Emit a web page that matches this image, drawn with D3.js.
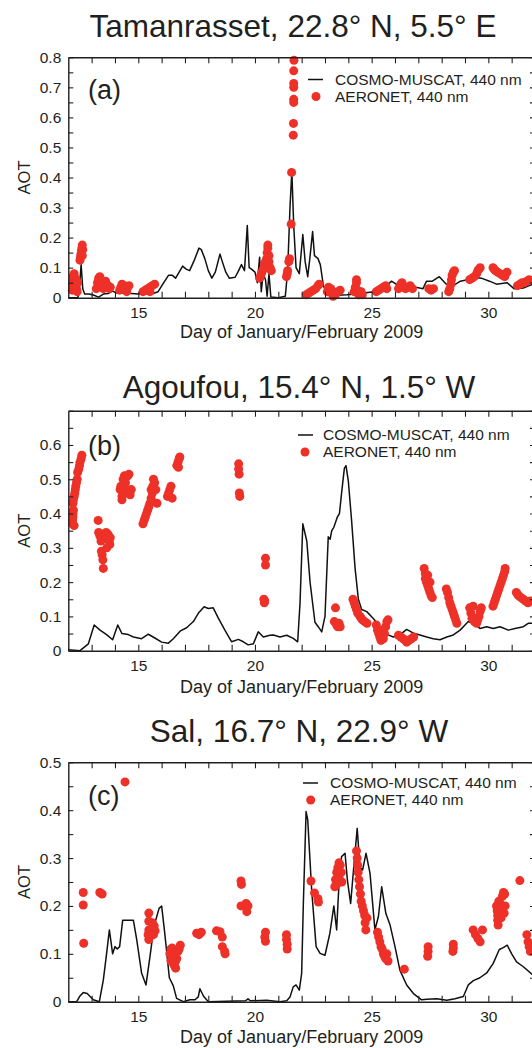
<!DOCTYPE html>
<html>
<head>
<meta charset="utf-8">
<script src="https://cdn.jsdelivr.net/npm/d3@7"></script>
<style>
  body { margin: 0; background: #fff; }
  svg { display: block; font-family: 'Liberation Sans', Arial, Helvetica, sans-serif; }
</style>
</head>
<body>
<script>
// AOT time series, day of Jan/Feb 2009 (32 = Feb 1)
var dayTicks = d3.range(13, 32);
var dayLabels = [15, 20, 25, 30];
var legendNames = ['COSMO-MUSCAT, 440 nm', 'AERONET, 440 nm'];

// (a) Tamanrasset
var tamModel = [[12,0],[12.4,0],[12.45,0.01],[12.55,0.11],[12.62,0.03],[12.7,0.012],[12.9,0.012],[13.1,0.008],[13.3,0.002],
  [13.5,0.012],[13.7,0.014],[13.9,0.022],[14.1,0.015],[14.4,0.016],[14.7,0.014],[15.0,0.012],[15.3,0.012],[15.6,0.013],
  [15.85,0.02],[16.05,0.045],[16.3,0.075],[16.45,0.075],[16.6,0.065],[16.75,0.085],[16.9,0.105],[17.05,0.095],[17.2,0.09],
  [17.4,0.125],[17.6,0.165],[17.7,0.16],[17.85,0.13],[18.0,0.09],[18.15,0.065],[18.3,0.085],[18.5,0.145],[18.6,0.12],
  [18.75,0.085],[18.9,0.065],[19.15,0.068],[19.3,0.09],[19.42,0.11],[19.55,0.09],[19.67,0.24],[19.75,0.1],[19.85,0.095],
  [20.0,0.085],[20.1,0.05],[20.2,0.135],[20.27,0.02],[20.35,0.08],[20.45,0.06],[20.52,0.005],[20.6,0.08],[20.68,0.002],
  [21.0,0],[21.3,0.005],[21.4,0.09],[21.5,0.3],[21.58,0.42],[21.66,0.24],[21.76,0.1],[21.9,0.08],[22.05,0.21],[22.15,0.12],
  [22.26,0.07],[22.35,0.13],[22.47,0.22],[22.55,0.14],[22.7,0.13],[22.8,0.11],[22.93,0.04],[23.1,0.01],[23.5,0.008],
  [23.95,0.01],[24.5,0.014],[25.1,0.02],[25.5,0.03],[25.85,0.055],[26.05,0.045],[26.5,0.045],[26.9,0.035],[27.2,0.03],
  [27.35,0.055],[27.6,0.055],[27.9,0.07],[28.2,0.045],[28.5,0.04],[28.8,0.055],[29.1,0.06],[29.4,0.067],[29.7,0.065],
  [30.05,0.055],[30.35,0.045],[30.8,0.05],[31.1,0.03],[31.5,0.032],[31.9,0.045],[32,0.048]];
var tamObs = [[12.17,0.025],[12.18,0.04],[12.2,0.055],[12.2,0.07],[12.25,0.08],[12.3,0.065],[12.32,0.045],[12.35,0.03],
  [12.38,0.02],[12.4,0.05],[12.5,0.125],[12.52,0.135],[12.54,0.145],[12.56,0.155],[12.58,0.165],[12.6,0.175],[12.62,0.16],
  [12.6,0.14],[13.2,0.03],[13.25,0.05],[13.3,0.065],[13.35,0.07],[13.4,0.05],[13.45,0.035],[13.5,0.03],[13.55,0.045],
  [13.6,0.055],[13.7,0.04],[13.75,0.03],[13.8,0.035],[14.2,0.025],[14.25,0.035],[14.3,0.045],[14.4,0.04],[14.45,0.03],
  [14.5,0.02],[14.55,0.035],[14.6,0.04],[15.2,0.02],[15.3,0.025],[15.4,0.03],[15.5,0.035],[15.6,0.04],[15.7,0.045],
  [15.5,0.02],[20.2,0.065],[20.25,0.075],[20.3,0.085],[20.35,0.095],[20.4,0.11],[20.45,0.12],[20.5,0.13],[20.52,0.15],
  [20.55,0.165],[20.55,0.175],[20.6,0.14],[20.65,0.1],[20.7,0.09],[20.6,0.12],[21.35,0.07],[21.38,0.08],[21.4,0.09],
  [21.45,0.12],[21.48,0.13],[21.55,0.245],[21.57,0.417],[21.64,0.541],[21.65,0.58],[21.66,0.65],[21.66,0.66],[21.66,0.7],
  [21.66,0.713],[21.66,0.755],[21.67,0.79],[22.2,0.01],[22.3,0.015],[22.4,0.02],[22.5,0.025],[22.6,0.03],[22.7,0.04],
  [22.75,0.045],[23.1,0.02],[23.15,0.035],[23.25,0.03],[23.3,0.015],[23.35,0.005],[23.45,0.01],[23.55,0.02],[23.65,0.025],
  [24.25,0.02],[24.3,0.035],[24.35,0.05],[24.35,0.06],[24.4,0.025],[24.45,0.01],[24.55,0.02],[24.6,0.01],[25.2,0.02],
  [25.3,0.025],[25.4,0.03],[25.5,0.035],[25.6,0.04],[25.65,0.03],[26.15,0.03],[26.25,0.045],[26.3,0.05],[26.35,0.035],
  [26.45,0.03],[26.55,0.035],[26.65,0.04],[26.75,0.03],[27.45,0.03],[27.55,0.025],[27.65,0.03],[28.3,0.02],[28.35,0.03],
  [28.4,0.045],[28.42,0.06],[28.45,0.075],[28.5,0.085],[28.55,0.09],[29.2,0.06],[29.3,0.065],[29.4,0.07],[29.5,0.08],
  [29.55,0.09],[29.6,0.095],[29.65,0.1],[30.2,0.1],[30.25,0.095],[30.3,0.09],[30.4,0.085],[30.5,0.08],[30.6,0.075],
  [30.7,0.07],[30.75,0.08],[30.8,0.085],[31.25,0.04],[31.35,0.045],[31.45,0.05],[31.55,0.05],[31.65,0.055],[31.75,0.06]];

// (b) Agoufou
var agoModel = [[12,0.003],[12.5,0],[12.86,0.02],[13.11,0.075],[13.36,0.06],[13.64,0.047],[13.9,0.032],[14.12,0.075],
  [14.3,0.05],[14.57,0.047],[14.79,0.04],[15.14,0.035],[15.43,0.048],[15.71,0.037],[16.0,0.025],[16.29,0.022],[16.5,0.035],
  [16.79,0.057],[17.07,0.067],[17.36,0.085],[17.57,0.109],[17.82,0.128],[18.0,0.123],[18.21,0.125],[18.43,0.095],
  [18.71,0.06],[19.0,0.026],[19.29,0.033],[19.5,0.026],[19.71,0.017],[19.93,0.02],[20.14,0.055],[20.36,0.04],[20.64,0.045],
  [20.79,0.046],[21.07,0.04],[21.36,0.045],[21.64,0.036],[21.83,0.026],[21.93,0.138],[22.05,0.37],[22.22,0.32],[22.36,0.2],
  [22.57,0.083],[22.71,0.07],[22.86,0.055],[23.0,0.1],[23.14,0.332],[23.22,0.325],[23.29,0.35],[23.38,0.36],[23.53,0.39],
  [23.62,0.4],[23.71,0.459],[23.83,0.532],[23.9,0.54],[24.0,0.495],[24.14,0.38],[24.29,0.24],[24.43,0.15],[24.57,0.12],
  [24.79,0.114],[25.07,0.094],[25.36,0.07],[25.53,0.051],[25.71,0.046],[25.93,0.04],[26.21,0.046],[26.5,0.062],
  [26.79,0.051],[27.07,0.046],[27.36,0.04],[27.64,0.035],[27.93,0.032],[28.22,0.04],[28.5,0.046],[28.79,0.06],[29.0,0.075],
  [29.14,0.085],[29.36,0.08],[29.64,0.065],[29.93,0.07],[30.21,0.065],[30.5,0.07],[30.86,0.06],[31.14,0.065],[31.5,0.07],
  [31.71,0.08],[32,0.08]];
var agoObs = [[12.18,0.37],[12.18,0.38],[12.2,0.39],[12.2,0.4],[12.22,0.41],[12.2,0.43],[12.25,0.45],[12.28,0.46],[12.3,0.47],
  [12.32,0.48],[12.35,0.49],[12.38,0.5],[12.4,0.52],[12.45,0.53],[12.48,0.54],[12.5,0.55],[12.55,0.56],[12.58,0.57],
  [12.25,0.365],[12.22,0.44],[13.28,0.38],[13.3,0.345],[13.35,0.335],[13.4,0.32],[13.42,0.29],[13.45,0.28],[13.48,0.265],
  [13.5,0.24],[13.55,0.33],[13.62,0.345],[13.7,0.34],[13.75,0.32],[13.78,0.31],[13.8,0.33],[13.65,0.3],[14.22,0.47],
  [14.25,0.48],[14.3,0.45],[14.3,0.44],[14.35,0.5],[14.4,0.51],[14.45,0.46],[14.5,0.47],[14.55,0.51],[14.6,0.515],
  [14.65,0.455],[14.7,0.47],[14.45,0.49],[15.2,0.37],[15.25,0.38],[15.3,0.39],[15.35,0.4],[15.4,0.41],[15.45,0.42],
  [15.5,0.43],[15.55,0.445],[15.6,0.46],[15.62,0.48],[15.65,0.5],[15.7,0.49],[15.75,0.47],[15.8,0.43],[15.55,0.47],
  [16.25,0.45],[16.3,0.46],[16.35,0.47],[16.4,0.48],[16.45,0.445],[16.65,0.54],[16.7,0.55],[16.75,0.56],[16.78,0.565],
  [16.72,0.535],[19.3,0.545],[19.3,0.53],[19.32,0.515],[19.33,0.46],[19.35,0.45],[20.45,0.27],[20.45,0.25],[20.38,0.15],
  [20.4,0.14],[20.42,0.145],[23.45,0.125],[23.4,0.085],[23.5,0.075],[23.55,0.07],[23.6,0.08],[23.65,0.07],[24.2,0.15],
  [24.25,0.14],[24.3,0.13],[24.35,0.12],[24.4,0.11],[24.5,0.1],[24.55,0.095],[24.6,0.09],[24.7,0.085],[24.8,0.08],
  [25.2,0.075],[25.25,0.06],[25.3,0.05],[25.35,0.04],[25.4,0.03],[25.5,0.035],[25.55,0.05],[25.6,0.07],[25.65,0.085],
  [25.7,0.09],[25.45,0.06],[26.15,0.045],[26.25,0.04],[26.35,0.035],[26.45,0.03],[26.5,0.025],[26.6,0.03],[26.7,0.035],
  [26.8,0.04],[27.25,0.24],[27.3,0.225],[27.3,0.21],[27.35,0.2],[27.4,0.19],[27.45,0.18],[27.5,0.17],[27.55,0.16],
  [27.6,0.155],[27.5,0.2],[27.4,0.22],[28.2,0.18],[28.25,0.17],[28.3,0.155],[28.35,0.14],[28.4,0.13],[28.45,0.12],
  [28.5,0.11],[28.55,0.1],[28.6,0.09],[28.65,0.08],[29.2,0.125],[29.25,0.11],[29.3,0.095],[29.4,0.085],[29.5,0.08],
  [29.55,0.09],[29.6,0.1],[29.65,0.115],[29.7,0.125],[29.35,0.13],[30.2,0.13],[30.25,0.14],[30.3,0.15],[30.35,0.16],
  [30.4,0.17],[30.45,0.18],[30.5,0.19],[30.55,0.2],[30.6,0.21],[30.65,0.22],[30.7,0.23],[30.72,0.24],[31.2,0.17],
  [31.25,0.165],[31.3,0.16],[31.4,0.155],[31.5,0.15],[31.6,0.145],[31.7,0.14],[31.8,0.145]];

// (c) Sal
var salModel = [[12,0],[12.36,0],[12.5,0.012],[12.64,0.019],[12.81,0.017],[13.07,0.004],[13.33,0],[13.5,0.045],[13.64,0.1],
  [13.76,0.15],[13.9,0.1],[14.0,0.115],[14.1,0.11],[14.2,0.115],[14.33,0.17],[14.57,0.17],[14.79,0.17],[14.93,0.13],
  [15.14,0.06],[15.33,0.035],[15.5,0.094],[15.67,0.157],[15.89,0.195],[16.0,0.2],[16.14,0.14],[16.33,0.05],[16.5,0.033],
  [16.64,0.007],[16.93,0],[17.21,0.004],[17.43,0.004],[17.57,0.01],[17.64,0.027],[17.79,0.012],[18,0],[19.6,0.002],
  [19.7,0.006],[19.8,0.002],[20.5,0.003],[21.07,0],[21.36,0.002],[21.5,0.01],[21.64,0.031],[21.76,0.035],[21.9,0.024],
  [22.0,0.059],[22.07,0.2],[22.19,0.397],[22.26,0.38],[22.43,0.233],[22.62,0.115],[22.79,0.101],[23.0,0.097],[23.21,0.143],
  [23.38,0.2],[23.5,0.15],[23.6,0.247],[23.71,0.303],[23.86,0.31],[23.96,0.254],[24.1,0.205],[24.21,0.268],[24.38,0.362],
  [24.5,0.28],[24.61,0.275],[24.76,0.31],[24.93,0.268],[25.14,0.15],[25.29,0.178],[25.43,0.24],[25.61,0.184],[25.79,0.16],
  [26.0,0.115],[26.21,0.066],[26.5,0.035],[26.79,0.017],[27.14,0.004],[27.36,0.005],[27.79,0.006],[28.22,0.003],
  [28.57,0.006],[28.93,0.011],[29.14,0.035],[29.36,0.044],[29.64,0.05],[29.93,0.06],[30.21,0.08],[30.47,0.109],
  [30.64,0.113],[30.81,0.118],[31.0,0.1],[31.21,0.083],[31.5,0.073],[31.9,0.056],[32,0.05]];
var salObs = [[12.64,0.228],[12.64,0.202],[12.66,0.122],[13.35,0.228],[13.45,0.225],[14.43,0.459],[15.45,0.185],
  [15.45,0.168],[15.45,0.15],[15.42,0.14],[15.45,0.13],[15.6,0.165],[15.68,0.158],[15.72,0.148],[15.65,0.14],[15.55,0.148],
  [16.35,0.1],[16.4,0.11],[16.45,0.09],[16.5,0.08],[16.55,0.075],[16.6,0.07],[16.45,0.112],[16.55,0.1],[16.65,0.09],
  [16.7,0.105],[16.75,0.11],[16.8,0.118],[16.4,0.085],[16.6,0.085],[17.5,0.143],[17.6,0.14],[17.7,0.145],[18.35,0.148],
  [18.5,0.146],[18.6,0.135],[18.6,0.115],[18.7,0.105],[18.72,0.1],[19.4,0.252],[19.42,0.245],[19.4,0.2],[19.62,0.205],
  [19.7,0.2],[19.65,0.188],[20.45,0.145],[20.42,0.135],[20.45,0.126],[21.35,0.14],[21.35,0.13],[21.38,0.12],[21.38,0.11],
  [22.4,0.252],[22.55,0.227],[22.7,0.215],[22.72,0.208],[23.42,0.24],[23.45,0.255],[23.5,0.27],[23.55,0.28],[23.6,0.29],
  [23.65,0.285],[23.7,0.27],[23.72,0.25],[23.5,0.245],[23.6,0.26],[24.35,0.315],[24.38,0.3],[24.4,0.285],[24.42,0.27],
  [24.45,0.255],[24.48,0.24],[24.52,0.225],[24.55,0.21],[24.6,0.2],[24.65,0.19],[24.7,0.18],[24.72,0.165],[24.75,0.15],
  [24.8,0.175],[25.25,0.145],[25.3,0.135],[25.35,0.125],[25.4,0.115],[25.45,0.11],[25.5,0.1],[25.55,0.095],[25.6,0.09],
  [25.7,0.085],[25.65,0.1],[26.4,0.068],[27.42,0.115],[27.42,0.105],[27.4,0.095],[28.5,0.12],[28.5,0.112],[28.48,0.105],
  [29.35,0.15],[29.45,0.14],[29.55,0.132],[29.65,0.125],[29.75,0.15],[30.35,0.2],[30.38,0.19],[30.4,0.18],[30.4,0.17],
  [30.42,0.16],[30.45,0.21],[30.5,0.205],[30.55,0.195],[30.6,0.22],[30.65,0.228],[30.7,0.225],[30.72,0.2],[30.68,0.185],
  [30.55,0.175],[31.35,0.253],[31.65,0.14],[31.7,0.125],[31.75,0.115],[31.8,0.105]];

var W = 532, H = 1048;
var left = 68.3, right = 535;
var red = '#ee3128', ink = '#231f20';

var svg = d3.select('body').append('svg').attr('width', W).attr('height', H);

var x = d3.scaleLinear().domain([12, 32]).range([left, right]);

var panels = [
  { title: 'Tamanrasset, 22.8° N, 5.5° E', tag: '(a)', model: tamModel, obs: tamObs, top: 57.3, bottom: 297.7, ymax: 0.8, labMax: 0.8,
    titleX: 293, titleY: 36.7, tagY: 98.5, leg: { lx: 308, tx: 335, y: 79.5, dx: 316 }, xlabY: 338 },
  { title: 'Agoufou, 15.4° N, 1.5° W', tag: '(b)', model: agoModel, obs: agoObs, top: 410.7, bottom: 650.7, ymax: 0.7, labMax: 0.6,
    titleX: 299, titleY: 398, tagY: 455, leg: { lx: 298, tx: 323, y: 435, dx: 305 }, xlabY: 692.5 },
  { title: 'Sal, 16.7° N, 22.9° W', tag: '(c)', model: salModel, obs: salObs, top: 762.3, bottom: 1001.7, ymax: 0.5, labMax: 0.5,
    titleX: 299, titleY: 742, tagY: 805, leg: { lx: 303, tx: 330, y: 783, dx: 310.7 }, xlabY: 1042.5 }
];

panels.forEach(function (p) {
  var y = d3.scaleLinear().domain([0, p.ymax]).range([p.bottom, p.top]);
  var g = svg.append('g');
  var yt = d3.range(0, p.ymax + 0.001, 0.05).map(function (v) { return +v.toFixed(2); });

  // title
  g.append('text').attr('x', p.titleX).attr('y', p.titleY).attr('text-anchor', 'middle')
    .attr('font-size', 31.5).attr('fill', ink).text(p.title);

  // data
  var line = d3.line().x(function (d) { return x(d[0]); }).y(function (d) { return y(d[1]); });
  g.append('path').datum(p.model).attr('d', line).attr('fill', 'none')
    .attr('stroke', '#111').attr('stroke-width', 1.5).attr('stroke-linejoin', 'round');
  g.selectAll('circle.obs').data(p.obs).enter().append('circle').attr('class', 'obs')
    .attr('cx', function (d) { return x(d[0]); })
    .attr('cy', function (d) { return y(d[1]); })
    .attr('r', 4.5).attr('fill', red);

  // axes, ticks inward on all four sides
  g.append('g').attr('transform', 'translate(0,' + p.bottom + ')')
    .call(d3.axisBottom(x).tickValues(dayTicks).tickSize(-6).tickSizeOuter(0).tickPadding(9)
      .tickFormat(function (d) { return dayLabels.indexOf(d) >= 0 ? d : ''; }));
  g.append('g').attr('transform', 'translate(0,' + p.top + ')')
    .call(d3.axisTop(x).tickValues(dayTicks).tickSize(-6).tickSizeOuter(0).tickFormat(''));
  g.append('g').attr('transform', 'translate(' + left + ',0)')
    .call(d3.axisLeft(y).tickValues(yt).tickSize(-5).tickSizeOuter(0).tickPadding(7)
      .tickFormat(function (v) {
        var k = Math.round(v * 100);
        return (k % 10 === 0 && v <= p.labMax + 1e-9) ? (v === 0 ? '0' : d3.format('.1f')(v)) : '';
      }));
  g.append('g').attr('transform', 'translate(' + right + ',0)')
    .call(d3.axisRight(y).tickValues(yt).tickSize(-5).tickSizeOuter(0).tickFormat(''));

  g.selectAll('.domain').attr('stroke', ink).attr('stroke-width', 1.4);
  g.selectAll('.tick line').attr('stroke', ink).attr('stroke-width', 1.1);
  g.selectAll('.tick text').attr('fill', ink).attr('font-size', 15.5)
    .attr('font-family', "'Liberation Sans', Arial, Helvetica, sans-serif");

  // axis titles
  g.append('text').attr('transform', 'translate(24,' + ((p.top + p.bottom) / 2) + ') rotate(-90)')
    .attr('text-anchor', 'middle').attr('dy', '0.35em').attr('font-size', 16.5).attr('fill', ink).text('AOT');
  g.append('text').attr('x', (left + right) / 2).attr('y', p.xlabY).attr('text-anchor', 'middle')
    .attr('font-size', 18).attr('fill', ink).text('Day of January/February 2009');

  // panel tag
  g.append('text').attr('x', 88).attr('y', p.tagY).attr('font-size', 27).attr('fill', ink).text(p.tag);

  // legend
  var L = p.leg;
  g.append('line').attr('x1', L.lx).attr('x2', L.lx + 15).attr('y1', L.y).attr('y2', L.y)
    .attr('stroke', '#111').attr('stroke-width', 1.5);
  g.append('text').attr('x', L.tx).attr('y', L.y).attr('dy', '0.35em').attr('font-size', 15.5).attr('fill', ink).text(legendNames[0]);
  g.append('circle').attr('cx', L.dx).attr('cy', L.y + 17).attr('r', 4.5).attr('fill', red);
  g.append('text').attr('x', L.tx).attr('y', L.y + 17).attr('dy', '0.35em').attr('font-size', 15.5).attr('fill', ink).text(legendNames[1]);
});
</script>
</body>
</html>
